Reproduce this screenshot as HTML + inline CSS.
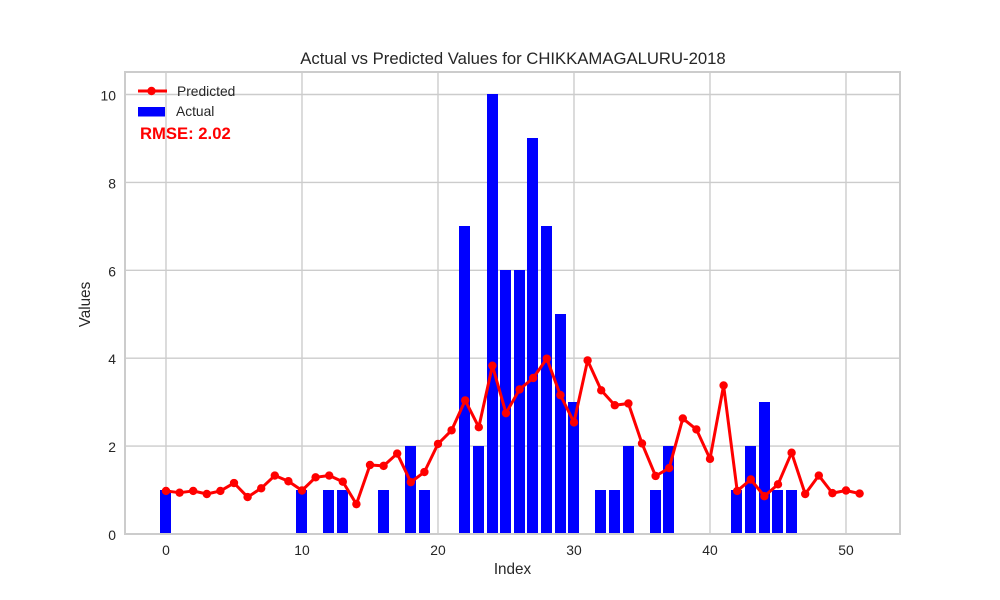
<!DOCTYPE html>
<html lang="en">
<head>
<meta charset="utf-8">
<title>Actual vs Predicted Values for CHIKKAMAGALURU-2018</title>
<style>
html,body{margin:0;padding:0;background:#fff;}
svg{display:block;font-family:"Liberation Sans",sans-serif;}
</style>
</head>
<body>
<svg id="chart" width="1000" height="600" viewBox="0 0 1000 600" xmlns="http://www.w3.org/2000/svg">
  <g id="grid"></g>
  <g id="bars"></g>
  <g id="line"></g>
  <rect x="125" y="72" width="775" height="462" fill="none" stroke="#cccccc" stroke-width="2"/>
  <g id="ticks"></g>
  <text x="513" y="64" text-anchor="middle" font-size="16.7" fill="#262626">Actual vs Predicted Values for CHIKKAMAGALURU-2018</text>
  <text x="512.5" y="574" text-anchor="middle" font-size="15.28" fill="#262626">Index</text>
  <text transform="translate(90,304.5) rotate(-90)" text-anchor="middle" font-size="15.28" fill="#262626">Values</text>
  <g>
    <line x1="138" y1="91" x2="167" y2="91" stroke="#ff0000" stroke-width="3"/>
    <circle cx="151.5" cy="91" r="4.2" fill="#ff0000"/>
    <text x="177" y="96" font-size="13.8" fill="#262626">Predicted</text>
    <rect x="138" y="107" width="27" height="9.5" fill="#0000ff"/>
    <text x="176" y="116" font-size="13.8" fill="#262626">Actual</text>
  </g>
  <text x="140" y="139" font-size="16.67" font-weight="bold" fill="#ff0000">RMSE: 2.02</text>
</svg>
<script>
const actualIndex = [0,10,12,13,16,18,19,22,23,24,25,26,27,28,29,30,32,33,34,36,37,42,43,44,45,46];
const actualValues = [1,1,1,1,1,2,1,7,2,10,6,6,9,7,5,3,1,1,2,1,2,1,2,3,1,1];
const predictedValues = [0.98,0.94,0.98,0.91,0.98,1.16,0.84,1.04,1.33,1.2,0.99,1.29,1.33,1.19,0.68,1.57,1.55,1.83,1.18,1.41,2.05,2.36,3.04,2.43,3.83,2.75,3.29,3.55,3.99,3.16,2.54,3.95,3.27,2.93,2.97,2.06,1.32,1.5,2.63,2.38,1.71,3.38,0.98,1.24,0.86,1.13,1.85,0.91,1.33,0.93,0.99,0.92];
const xTicks = [0,10,20,30,40,50];
const yTicks = [0,2,4,6,8,10];

const NS = 'http://www.w3.org/2000/svg';
const xScale = v => 166 + v * 13.6;
const yScale = v => 534 - v * 43.95;
const barWidth = 11;

function make(tag, attrs, parent) {
  const el = document.createElementNS(NS, tag);
  for (const k in attrs) el.setAttribute(k, attrs[k]);
  parent.appendChild(el);
  return el;
}

const gridG = document.getElementById('grid');
const ticksG = document.getElementById('ticks');
const barsG = document.getElementById('bars');
const lineG = document.getElementById('line');

xTicks.forEach(t => {
  const g = make('line', {x1: xScale(t), x2: xScale(t), y1: 72, y2: 534, stroke: '#cccccc', 'stroke-width': 1.4}, gridG);
  
  
  const l = make('text', {x: xScale(t), y: 555, 'text-anchor': 'middle', 'font-size': 13.9, fill: '#262626'}, ticksG);
  
  
  l.textContent = t;
});

yTicks.forEach(t => {
  const g = make('line', {x1: 125, x2: 900, y1: yScale(t), y2: yScale(t), stroke: '#cccccc', 'stroke-width': 1.4}, gridG);
  
  
  const l = make('text', {x: 116, y: yScale(t) + 6, 'text-anchor': 'end', 'font-size': 13.9, fill: '#262626'}, ticksG);
  
  
  l.textContent = t;
});

actualValues.forEach((v, i) => {
  const left = Math.round(xScale(actualIndex[i]) - 0.8 * 13.6 / 2 - 0.3);
  const top = Math.floor(yScale(v));
  const b = make('rect', {x: left, y: top, width: barWidth, height: yScale(0) - top, fill: '#0000ff', 'shape-rendering': 'crispEdges'}, barsG);
  
  
});

const pts = predictedValues.map((v, i) => xScale(i) + ',' + yScale(v)).join(' ');
const poly = make('polyline', {points: pts, fill: 'none', stroke: '#ff0000', 'stroke-width': 3, 'stroke-linejoin': 'round'}, lineG);



predictedValues.forEach((v, i) => {
  const c = make('circle', {cx: xScale(i), cy: yScale(v), r: 4.2, fill: '#ff0000'}, lineG);
  
  
});
</script>
</body>
</html>
